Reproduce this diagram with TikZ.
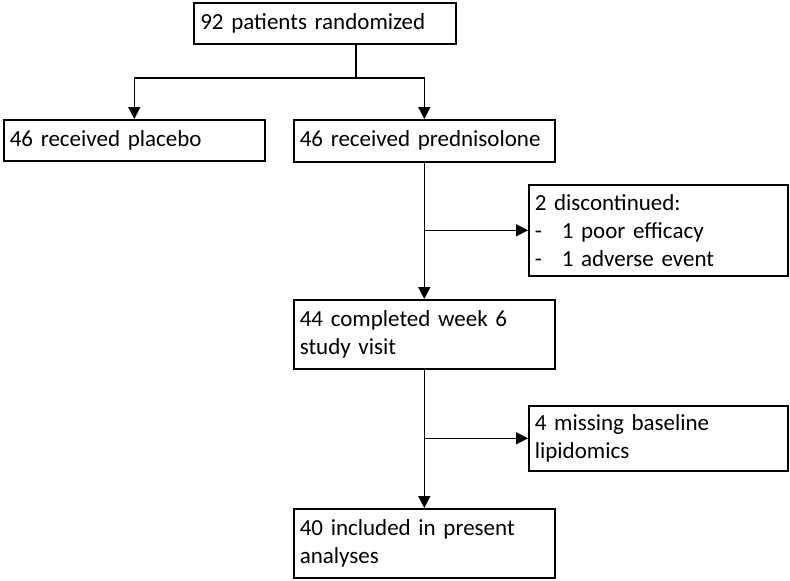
\documentclass[tikz,border=0pt]{standalone}
\usepackage{fontspec}
\setmainfont{Carlito}
\usepackage{tikz}
\usetikzlibrary{arrows.meta, positioning, calc}

\begin{document}
\begin{tikzpicture}[x=1pt, y=-1pt,
    box/.style={rectangle, draw, line width=1.6pt, anchor=north west, inner xsep=6pt, inner ysep=0pt,
        align=left, font=\fontsize{23}{28}\selectfont},
    widebox/.style={box, text width=249pt, minimum width=261pt},
    sidebox/.style={box, text width=247pt, minimum width=259pt},
    arrow/.style={-{Triangle[length=12pt, width=12pt]}, line width=1.6pt},
    line/.style={line width=1.6pt}]

    \useasboundingbox (0,0) rectangle (790,581);

    % Nodes
    \node[widebox, minimum width=262pt, minimum height=41pt] (rand) at (193,2) {92 patients randomized};
    \node[widebox, minimum height=41pt] (placebo) at (3,119) {46 received placebo};
    \node[widebox, minimum height=42pt] (pred) at (293,119) {46 received prednisolone};
    \node[sidebox, minimum height=91pt] (disc) at (528,184)
        {2 discontinued:\\\makebox[27pt][l]{-}1 poor efficacy\\\makebox[27pt][l]{-}1 adverse event};
    \node[widebox, minimum height=69pt] (week6) at (293,299) {44 completed week 6\\study visit};
    \node[sidebox, minimum height=65pt] (miss) at (528,405) {4 missing baseline\\lipidomics};
    \node[widebox, minimum height=69pt] (incl) at (293,508) {40 included in present\\analyses};

    % Randomization split
    \coordinate (split) at (356,78);
    \draw[line] (rand.south -| split) -- (split);
    \draw[arrow] (split) -| (placebo.north);
    \draw[arrow] (split) -| (pred.north);

    % Prednisolone arm
    \draw[arrow] (pred.south) -- (week6.north);
    \draw[arrow] (pred.south |- disc.west) -- (disc.west);
    \draw[arrow] (week6.south) -- (incl.north);
    \draw[arrow] (week6.south |- miss.west) -- (miss.west);

\end{tikzpicture}
\end{document}
